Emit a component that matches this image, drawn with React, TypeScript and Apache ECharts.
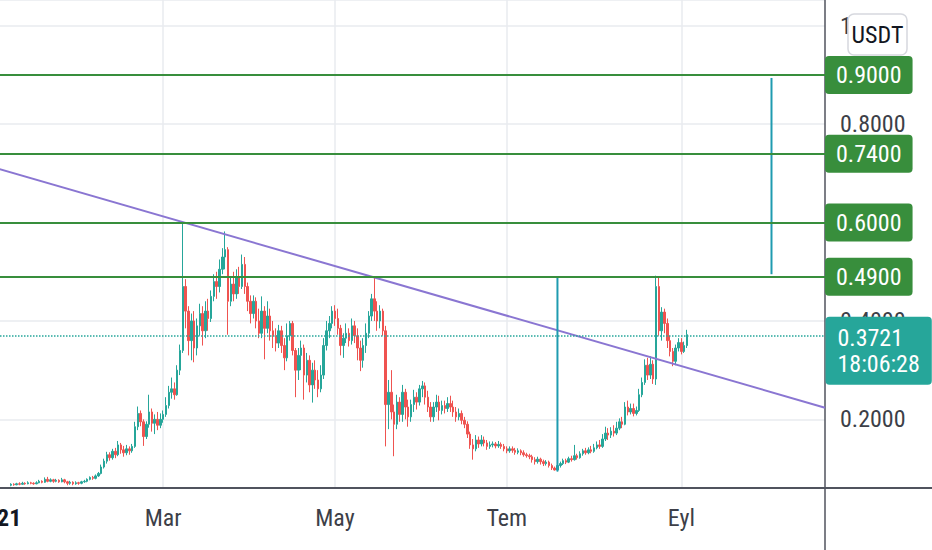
import React, { useEffect, useRef } from 'react';
import * as echarts from 'echarts';

// ---------- data ----------
const START_UTC = Date.UTC(2021, 0, 1);
const DAY_COUNT = 295; // Jan 1 2021 .. Oct 22 2021 (visible time range)
const FIRST_CANDLE = 5; // first traded day index (Jan 6)

// daily candles: [open, close, low, high]
const OHLC: number[][] = [
  // d5-d16
  [0.066, 0.068, 0.064, 0.070], [0.068, 0.067, 0.065, 0.070], [0.067, 0.069, 0.066, 0.071],
  [0.069, 0.068, 0.066, 0.072], [0.068, 0.070, 0.067, 0.073], [0.070, 0.069, 0.067, 0.072],
  [0.069, 0.071, 0.068, 0.074], [0.071, 0.070, 0.068, 0.073], [0.070, 0.069, 0.067, 0.072],
  [0.069, 0.071, 0.068, 0.074], [0.071, 0.074, 0.070, 0.077], [0.074, 0.072, 0.070, 0.076],
  // d17-d36
  [0.072, 0.078, 0.071, 0.082], [0.078, 0.074, 0.072, 0.083], [0.074, 0.077, 0.072, 0.080],
  [0.077, 0.074, 0.071, 0.079], [0.074, 0.076, 0.072, 0.079], [0.076, 0.073, 0.071, 0.078],
  [0.073, 0.077, 0.072, 0.081], [0.077, 0.073, 0.070, 0.079], [0.073, 0.070, 0.066, 0.075],
  [0.070, 0.072, 0.067, 0.075], [0.072, 0.069, 0.066, 0.074], [0.069, 0.071, 0.067, 0.074],
  [0.071, 0.070, 0.067, 0.073], [0.070, 0.073, 0.068, 0.075], [0.073, 0.074, 0.071, 0.077],
  [0.074, 0.078, 0.072, 0.080], [0.078, 0.082, 0.076, 0.084], [0.082, 0.080, 0.077, 0.085],
  [0.080, 0.085, 0.078, 0.088], [0.085, 0.090, 0.083, 0.093],
  // d37-d48
  [0.090, 0.103, 0.088, 0.108], [0.103, 0.115, 0.100, 0.120], [0.115, 0.128, 0.110, 0.134],
  [0.128, 0.122, 0.116, 0.133], [0.122, 0.135, 0.118, 0.140], [0.135, 0.128, 0.121, 0.142],
  [0.128, 0.148, 0.125, 0.156], [0.148, 0.138, 0.130, 0.152], [0.138, 0.132, 0.124, 0.146],
  [0.132, 0.140, 0.127, 0.148], [0.140, 0.136, 0.128, 0.145], [0.136, 0.145, 0.132, 0.150],
  // d49-d65
  [0.145, 0.185, 0.142, 0.195], [0.185, 0.212, 0.178, 0.226], [0.212, 0.195, 0.186, 0.218],
  [0.195, 0.165, 0.146, 0.200], [0.165, 0.190, 0.160, 0.196], [0.190, 0.215, 0.183, 0.250],
  [0.215, 0.192, 0.175, 0.222], [0.192, 0.200, 0.170, 0.210], [0.200, 0.188, 0.178, 0.215],
  [0.188, 0.200, 0.182, 0.212], [0.200, 0.210, 0.193, 0.218], [0.210, 0.228, 0.205, 0.245],
  [0.228, 0.255, 0.222, 0.268], [0.255, 0.262, 0.242, 0.285], [0.262, 0.250, 0.240, 0.275],
  [0.250, 0.300, 0.248, 0.310], [0.300, 0.340, 0.290, 0.352],
  // d66-d88
  [0.340, 0.470, 0.335, 0.600], [0.470, 0.420, 0.385, 0.485], [0.420, 0.360, 0.330, 0.430],
  [0.360, 0.400, 0.320, 0.415], [0.400, 0.345, 0.316, 0.420], [0.345, 0.390, 0.330, 0.405],
  [0.390, 0.415, 0.370, 0.435], [0.415, 0.380, 0.350, 0.430], [0.380, 0.420, 0.365, 0.440],
  [0.420, 0.405, 0.380, 0.445], [0.405, 0.450, 0.398, 0.462], [0.450, 0.480, 0.440, 0.495],
  [0.480, 0.470, 0.445, 0.500], [0.470, 0.505, 0.458, 0.525], [0.505, 0.530, 0.495, 0.548],
  [0.530, 0.545, 0.505, 0.582], [0.545, 0.440, 0.372, 0.550], [0.440, 0.475, 0.430, 0.490],
  [0.475, 0.455, 0.440, 0.500], [0.455, 0.490, 0.445, 0.505], [0.490, 0.470, 0.455, 0.510],
  [0.470, 0.515, 0.465, 0.535], [0.515, 0.470, 0.455, 0.530],
  // d89-d107
  [0.470, 0.440, 0.420, 0.478], [0.440, 0.415, 0.395, 0.452], [0.415, 0.440, 0.405, 0.452],
  [0.440, 0.400, 0.385, 0.448], [0.400, 0.375, 0.365, 0.425], [0.375, 0.420, 0.365, 0.450],
  [0.420, 0.385, 0.322, 0.430], [0.385, 0.410, 0.375, 0.440], [0.410, 0.380, 0.360, 0.425],
  [0.380, 0.370, 0.345, 0.400], [0.370, 0.355, 0.338, 0.385], [0.355, 0.380, 0.345, 0.392],
  [0.380, 0.350, 0.335, 0.390], [0.350, 0.325, 0.300, 0.365], [0.325, 0.370, 0.318, 0.395],
  [0.370, 0.395, 0.360, 0.400], [0.395, 0.340, 0.330, 0.400], [0.340, 0.300, 0.245, 0.345],
  [0.300, 0.330, 0.280, 0.345],
  // d108-d137
  [0.330, 0.345, 0.300, 0.360], [0.345, 0.290, 0.240, 0.352], [0.290, 0.320, 0.275, 0.335],
  [0.320, 0.270, 0.255, 0.330], [0.270, 0.300, 0.234, 0.315], [0.300, 0.280, 0.262, 0.320],
  [0.280, 0.262, 0.245, 0.300], [0.262, 0.290, 0.255, 0.310], [0.290, 0.350, 0.282, 0.365],
  [0.350, 0.380, 0.340, 0.400], [0.380, 0.395, 0.365, 0.410], [0.395, 0.420, 0.385, 0.430],
  [0.420, 0.405, 0.390, 0.432], [0.405, 0.385, 0.372, 0.425], [0.385, 0.350, 0.330, 0.392],
  [0.350, 0.365, 0.325, 0.375], [0.365, 0.375, 0.355, 0.395], [0.375, 0.360, 0.348, 0.385],
  [0.360, 0.390, 0.352, 0.405], [0.390, 0.370, 0.355, 0.400], [0.370, 0.345, 0.320, 0.385],
  [0.345, 0.320, 0.298, 0.360], [0.320, 0.350, 0.305, 0.365], [0.350, 0.375, 0.335, 0.395],
  [0.375, 0.410, 0.365, 0.420], [0.410, 0.445, 0.400, 0.455], [0.445, 0.420, 0.400, 0.490],
  [0.420, 0.400, 0.380, 0.440], [0.400, 0.420, 0.385, 0.432], [0.420, 0.380, 0.370, 0.425],
  // d138-d171
  [0.380, 0.230, 0.145, 0.390], [0.230, 0.255, 0.180, 0.280], [0.255, 0.215, 0.200, 0.300],
  [0.215, 0.190, 0.125, 0.230], [0.190, 0.235, 0.180, 0.250], [0.235, 0.210, 0.195, 0.245],
  [0.210, 0.255, 0.195, 0.270], [0.255, 0.225, 0.200, 0.262], [0.225, 0.205, 0.185, 0.240],
  [0.205, 0.230, 0.195, 0.240], [0.230, 0.245, 0.215, 0.260], [0.245, 0.235, 0.220, 0.255],
  [0.235, 0.262, 0.228, 0.270], [0.262, 0.268, 0.245, 0.278], [0.268, 0.245, 0.230, 0.275],
  [0.245, 0.225, 0.215, 0.258], [0.225, 0.205, 0.195, 0.235], [0.205, 0.225, 0.195, 0.235],
  [0.225, 0.235, 0.215, 0.250], [0.235, 0.218, 0.198, 0.248], [0.218, 0.228, 0.210, 0.238],
  [0.228, 0.222, 0.212, 0.238], [0.222, 0.232, 0.215, 0.245], [0.232, 0.225, 0.215, 0.248],
  [0.225, 0.215, 0.205, 0.238], [0.215, 0.205, 0.195, 0.225], [0.205, 0.212, 0.198, 0.222],
  [0.212, 0.198, 0.190, 0.218], [0.198, 0.190, 0.182, 0.205], [0.190, 0.170, 0.162, 0.196],
  [0.170, 0.148, 0.140, 0.175], [0.148, 0.140, 0.118, 0.160], [0.140, 0.158, 0.135, 0.168],
  [0.158, 0.150, 0.142, 0.165],
  // d172-d199
  [0.150, 0.158, 0.145, 0.168], [0.158, 0.152, 0.145, 0.165], [0.152, 0.145, 0.138, 0.158],
  [0.145, 0.148, 0.140, 0.155], [0.148, 0.150, 0.143, 0.155], [0.150, 0.146, 0.141, 0.154],
  [0.146, 0.149, 0.142, 0.156], [0.149, 0.145, 0.140, 0.153], [0.145, 0.140, 0.135, 0.150],
  [0.140, 0.136, 0.131, 0.145], [0.136, 0.140, 0.132, 0.145], [0.140, 0.137, 0.132, 0.145],
  [0.137, 0.133, 0.128, 0.142], [0.133, 0.136, 0.129, 0.141], [0.136, 0.132, 0.127, 0.139],
  [0.132, 0.128, 0.124, 0.137], [0.128, 0.126, 0.122, 0.132], [0.126, 0.124, 0.119, 0.130],
  [0.124, 0.118, 0.112, 0.128], [0.118, 0.114, 0.108, 0.123], [0.114, 0.119, 0.110, 0.124],
  [0.119, 0.114, 0.108, 0.122], [0.114, 0.110, 0.105, 0.118], [0.110, 0.113, 0.106, 0.117],
  [0.113, 0.106, 0.102, 0.116], [0.106, 0.101, 0.097, 0.110], [0.101, 0.097, 0.096, 0.104],
  [0.097, 0.106, 0.094, 0.110],
  // d200-d233
  [0.106, 0.110, 0.102, 0.114], [0.110, 0.116, 0.107, 0.120], [0.116, 0.113, 0.109, 0.120],
  [0.113, 0.120, 0.111, 0.124], [0.120, 0.118, 0.114, 0.126], [0.118, 0.126, 0.116, 0.148],
  [0.126, 0.122, 0.118, 0.130], [0.122, 0.130, 0.120, 0.135], [0.130, 0.136, 0.126, 0.140],
  [0.136, 0.132, 0.128, 0.142], [0.132, 0.138, 0.129, 0.143], [0.138, 0.135, 0.131, 0.146],
  [0.135, 0.142, 0.132, 0.150], [0.142, 0.148, 0.139, 0.155], [0.148, 0.145, 0.140, 0.158],
  [0.145, 0.160, 0.142, 0.170], [0.160, 0.172, 0.156, 0.185], [0.172, 0.168, 0.158, 0.182],
  [0.168, 0.176, 0.162, 0.184], [0.176, 0.172, 0.165, 0.188], [0.172, 0.182, 0.168, 0.195],
  [0.182, 0.195, 0.178, 0.202], [0.195, 0.190, 0.182, 0.205], [0.190, 0.225, 0.188, 0.235],
  [0.225, 0.215, 0.208, 0.238], [0.215, 0.222, 0.210, 0.232], [0.222, 0.212, 0.206, 0.232],
  [0.212, 0.218, 0.208, 0.226], [0.218, 0.250, 0.215, 0.262], [0.250, 0.275, 0.245, 0.285],
  [0.275, 0.310, 0.270, 0.322], [0.310, 0.290, 0.280, 0.325], [0.290, 0.312, 0.282, 0.328],
  [0.312, 0.282, 0.272, 0.320],
  // d234-d245
  [0.282, 0.470, 0.270, 0.492], [0.470, 0.380, 0.370, 0.490], [0.380, 0.418, 0.360, 0.428],
  [0.418, 0.395, 0.375, 0.425], [0.395, 0.360, 0.345, 0.405], [0.360, 0.338, 0.328, 0.370],
  [0.338, 0.318, 0.308, 0.345], [0.318, 0.345, 0.310, 0.352], [0.345, 0.356, 0.338, 0.365],
  [0.356, 0.338, 0.332, 0.365], [0.338, 0.350, 0.335, 0.358], [0.350, 0.3721, 0.345, 0.382],
];

const LEVELS = [0.9, 0.74, 0.6, 0.49];
const LAST_PRICE = 0.3721;
const COUNTDOWN = '18:06:28';
const TREND_LINE: [number, number][] = [[0, 0.7101], [294, 0.2237]]; // [day index, price]
const RANGE_LINES: { day: number; from: number; to: number }[] = [
  { day: 199, from: 0.094, to: 0.49 },
  { day: 275, from: 0.495, to: 0.894 },
];
const X_LABELS: Record<string, string> = {
  '2021-01-01': '2021',
  '2021-03-01': 'Mar',
  '2021-05-01': 'May',
  '2021-07-01': 'Tem',
  '2021-09-01': 'Eyl',
};
const Y_MIN = 0.0604;
const Y_MAX = 1.0525;
const CURRENCY = 'USDT';

// ---------- styles ----------
const FONT = "'Liberation Sans Narrow', 'Roboto Condensed', Roboto, sans-serif";
const UP = '#26a69a';
const DOWN = '#ef5350';
const GREEN = '#388e3c';
const TEAL = '#26a69a';
const TREND = '#8a76d2';
const RANGE = '#1f9bb0';
const AXIS = '#50535e';
const GRID_C = '#e9ebef';
const TEXT = '#3d3f48';

export default function App() {
  const ref = useRef<HTMLDivElement>(null);

  useEffect(() => {
    if (!ref.current) return;
    const chart = echarts.init(ref.current, null, { renderer: 'svg' });

    const dates: string[] = [];
    for (let i = 0; i < DAY_COUNT; i++) {
      dates.push(new Date(START_UTC + i * 86400000).toISOString().slice(0, 10));
    }
    const candleData = OHLC.map((r, k) => [dates[FIRST_CANDLE + k], r[0], r[1], r[2], r[3]]);

    const levelLabel = {
      show: true,
      position: 'end',
      distance: 0,
      color: '#ffffff',
      backgroundColor: GREEN,
      padding: [6, 11, 6, 11],
      borderRadius: 4,
      fontSize: 24,
      lineHeight: 26,
      fontFamily: FONT,
    };

    const option: any = {
      animation: false,
      backgroundColor: '#ffffff',
      grid: { left: -3, right: 107, top: 0, bottom: 62, containLabel: false, outerBoundsMode: 'none' },
      xAxis: {
        type: 'category',
        data: dates,
        boundaryGap: false,
        axisLine: { show: true, lineStyle: { color: AXIS, width: 2 } },
        axisTick: { show: false },
        axisLabel: {
          interval: (_i: number, v: string) => v in X_LABELS,
          formatter: (v: string) => (X_LABELS[v] === '2021' ? '{y|2021}' : X_LABELS[v] || ''),
          margin: 18,
          color: TEXT,
          fontSize: 24,
          fontFamily: FONT,
          rich: { y: { fontWeight: 'bold', color: '#131722', fontSize: 24, fontFamily: FONT } },
        },
        splitLine: {
          show: true,
          interval: (_i: number, v: string) => v in X_LABELS,
          lineStyle: { color: GRID_C, width: 1.5 },
        },
      },
      yAxis: {
        type: 'value',
        position: 'right',
        min: Y_MIN,
        max: Y_MAX,
        splitNumber: 5,
        axisLine: { show: true, lineStyle: { color: AXIS, width: 1.5 } },
        axisTick: { show: false },
        axisLabel: {
          showMinLabel: false,
          showMaxLabel: false,
          margin: 15,
          color: TEXT,
          fontSize: 24,
          fontFamily: FONT,
          // a tick that sits under a level label is fully covered in the reference
          formatter: (v: number) => (LEVELS.some((l) => Math.abs(l - v) < 1e-6) ? '' : v.toFixed(4)),
        },
        splitLine: { show: true, lineStyle: { color: GRID_C, width: 1.5 } },
      },
      series: [
        {
          type: 'candlestick',
          data: candleData,
          encode: { x: 0, y: [1, 2, 3, 4] },
          barWidth: '70%',
          itemStyle: { color: UP, color0: DOWN, borderColor: UP, borderColor0: DOWN, borderWidth: 1 },
          z: 3,
          markLine: {
            silent: true,
            symbol: ['none', 'none'],
            animation: false,
            data: [
              ...LEVELS.map((v) => ({
                yAxis: v,
                lineStyle: { color: GREEN, width: 2, type: 'solid' },
                label: { ...levelLabel, formatter: v.toFixed(4) },
              })),
              {
                yAxis: LAST_PRICE,
                lineStyle: { color: TEAL, width: 1.5, type: 'dotted' },
                label: { show: false },
              },
            ],
          },
          markPoint: {
            silent: true,
            animation: false,
            data: [
              {
                coord: [dates[DAY_COUNT - 1], LAST_PRICE],
                symbol: 'rect',
                symbolSize: 1,
                itemStyle: { color: 'rgba(0,0,0,0)' },
                label: {
                  show: true,
                  position: 'right',
                  distance: 0,
                  offset: [0, 16],
                  formatter: `${LAST_PRICE.toFixed(4)}\n${COUNTDOWN}`,
                  color: '#ffffff',
                  backgroundColor: TEAL,
                  padding: [8, 12, 8, 12],
                  borderRadius: 4,
                  fontSize: 24,
                  lineHeight: 26,
                  fontFamily: FONT,
                  align: 'left',
                },
              },
            ],
          },
        },
        {
          type: 'line',
          data: TREND_LINE.map(([d, v]) => [dates[d], v]),
          symbol: 'none',
          lineStyle: { color: TREND, width: 2 },
          silent: true,
          z: 4,
        },
        ...RANGE_LINES.map((r) => ({
          type: 'line',
          data: [
            [dates[r.day], r.from],
            [dates[r.day], r.to],
          ],
          symbol: 'none',
          lineStyle: { color: RANGE, width: 2 },
          silent: true,
          z: 4,
        })),
      ],
      graphic: [
        { type: 'line', shape: { x1: 825, y1: 488, x2: 932, y2: 488 }, style: { stroke: AXIS, lineWidth: 2 }, z: 50 },
        { type: 'line', shape: { x1: 825, y1: 488, x2: 825, y2: 550 }, style: { stroke: AXIS, lineWidth: 1.5 }, z: 50 },
        {
          type: 'rect',
          shape: { x: 848, y: 14, width: 59, height: 41, r: 6 },
          style: { fill: '#ffffff', stroke: '#d6d8de', lineWidth: 1.5 },
          z: 100,
        },
        {
          type: 'text',
          x: 877.5,
          y: 35,
          style: {
            text: CURRENCY,
            fill: '#131722',
            fontSize: 24,
            fontFamily: FONT,
            align: 'center',
            verticalAlign: 'middle',
          },
          z: 101,
        },
      ],
    };

    chart.setOption(option);
    return () => chart.dispose();
  }, []);

  return <div ref={ref} style={{ position: 'fixed', left: 0, top: 0, width: 932, height: 550 }} />;
}
